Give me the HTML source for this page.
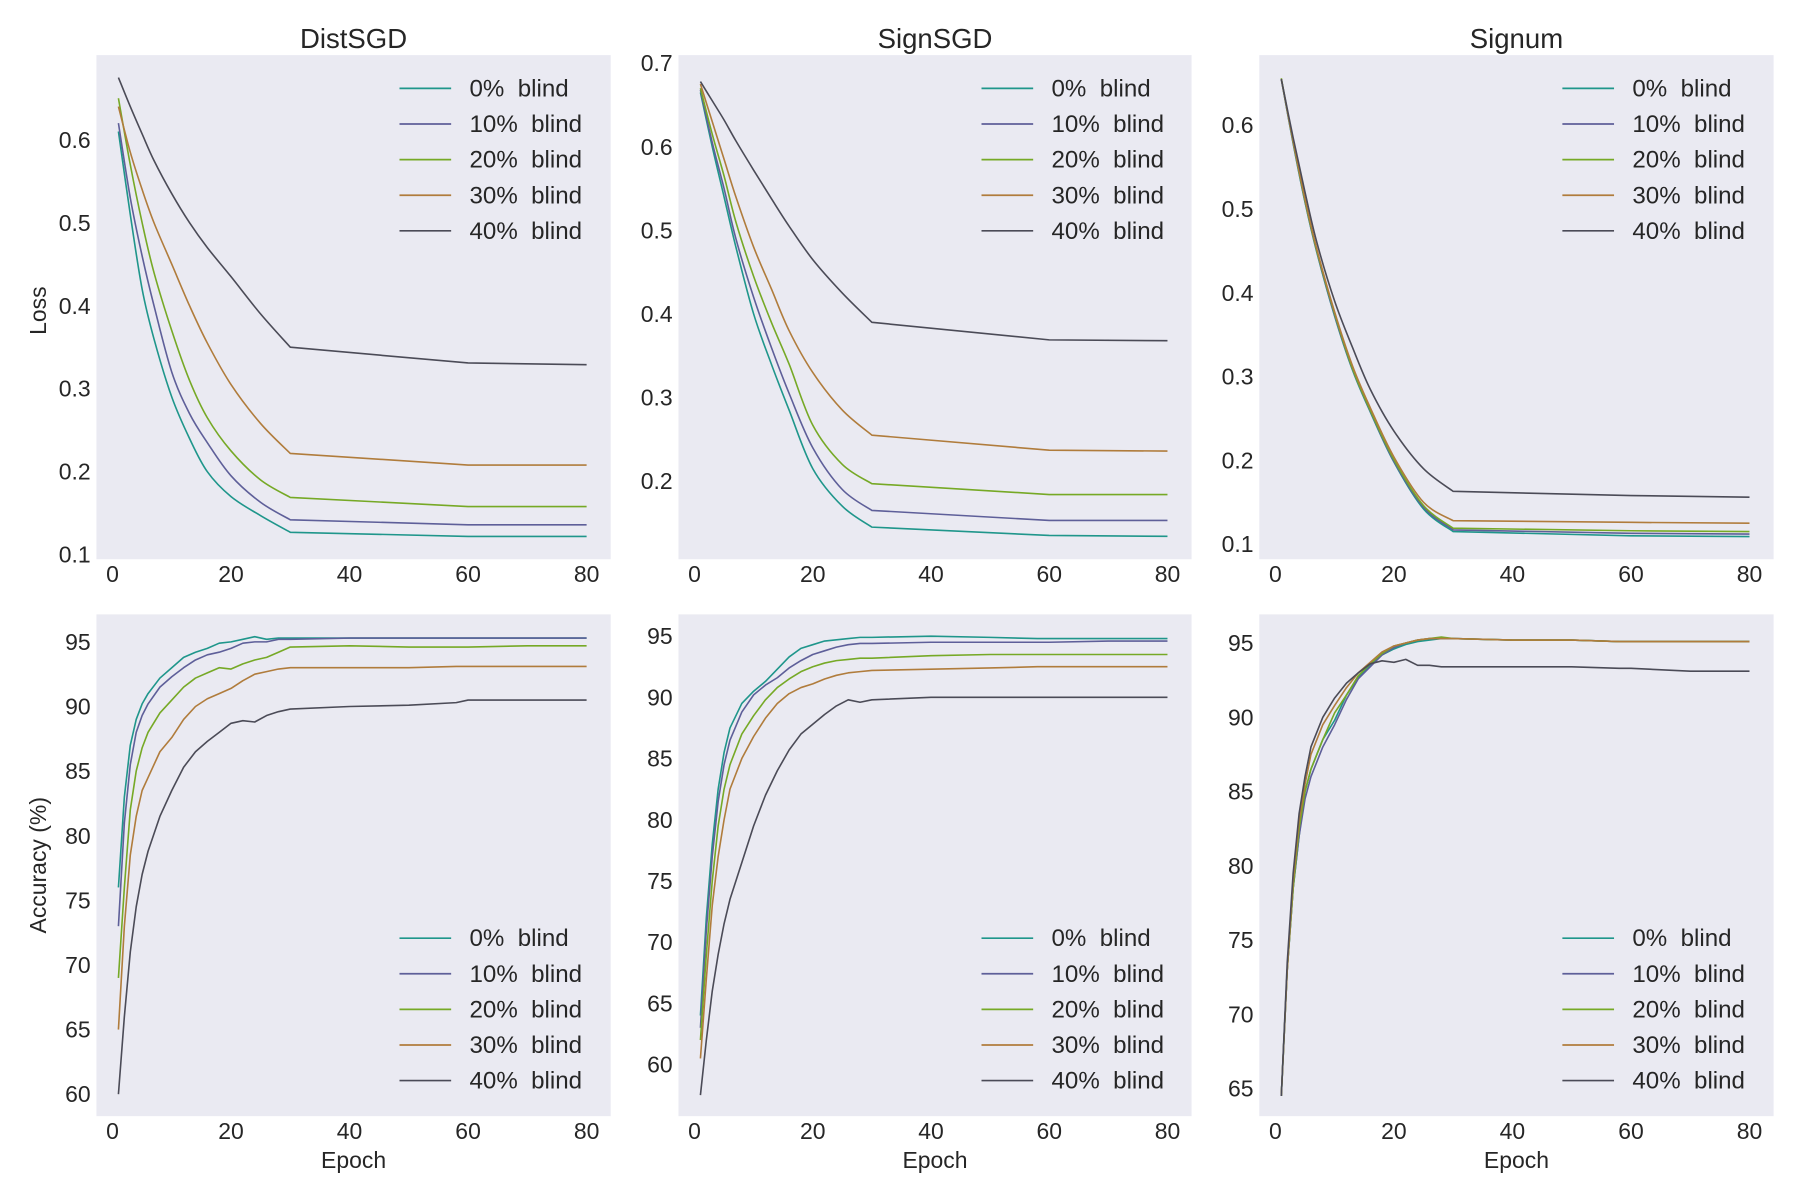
<!DOCTYPE html>
<html><head><meta charset="utf-8"><style>
html,body{margin:0;padding:0;background:#fff;}
svg{display:block;font-family:"Liberation Sans",Arial,sans-serif;}
text{white-space:pre;}
</style></head><body>
<svg id="fig" width="1800" height="1200" viewBox="0 0 1568 1045" preserveAspectRatio="none" xmlns="http://www.w3.org/2000/svg"></svg>
<script>
const seriesLabels = ["0%  blind","10%  blind","20%  blind","30%  blind","40%  blind"];
const seriesColors = ["#1f968b","#5e5f99","#76a926","#b07c3c","#4b4b57"];
const lossEpochs = [1,3,5,7,10,13,16,20,25,30,60,80];
const distLoss0 = [0.61,0.51,0.42,0.36,0.29,0.24,0.20,0.17,0.147,0.127,0.122,0.122];
const distLoss1 = [0.62,0.53,0.46,0.40,0.32,0.27,0.235,0.195,0.163,0.142,0.136,0.136];
const distLoss2 = [0.65,0.57,0.50,0.44,0.37,0.31,0.265,0.225,0.19,0.169,0.158,0.158];
const distLoss3 = [0.64,0.585,0.54,0.50,0.45,0.40,0.355,0.305,0.258,0.222,0.208,0.208];
const distLoss4 = [0.675,0.64,0.607,0.575,0.535,0.50,0.47,0.435,0.39,0.35,0.331,0.329];
const signLoss0 = [0.665,0.60,0.54,0.48,0.40,0.34,0.285,0.215,0.17,0.145,0.135,0.134];
const signLoss1 = [0.668,0.605,0.55,0.49,0.42,0.36,0.305,0.24,0.19,0.165,0.153,0.153];
const signLoss2 = [0.67,0.615,0.565,0.51,0.445,0.39,0.34,0.267,0.22,0.197,0.184,0.184];
const signLoss3 = [0.675,0.63,0.585,0.54,0.48,0.43,0.38,0.33,0.285,0.255,0.237,0.236];
const signLoss4 = [0.678,0.655,0.632,0.607,0.572,0.538,0.505,0.465,0.425,0.39,0.369,0.368];
const signumLoss0 = [0.655,0.578,0.508,0.448,0.372,0.308,0.258,0.198,0.142,0.115,0.110,0.109];
const signumLoss1 = [0.655,0.579,0.509,0.449,0.373,0.309,0.259,0.199,0.144,0.117,0.113,0.112];
const signumLoss2 = [0.656,0.58,0.51,0.45,0.375,0.31,0.26,0.201,0.146,0.119,0.116,0.115];
const signumLoss3 = [0.655,0.581,0.512,0.452,0.377,0.313,0.263,0.204,0.15,0.128,0.126,0.125];
const signumLoss4 = [0.655,0.585,0.52,0.46,0.39,0.335,0.285,0.235,0.19,0.163,0.158,0.156];
const accEpochs = [1,2,3,4,5,6,8,10,12,14,16,18,20,22,24,26,28,30,40,50,58,60,70,80];
const distAcc0 = [76,83,87,89,90.2,91,92.2,93,93.8,94.2,94.5,94.9,95.0,95.2,95.4,95.2,95.3,95.3,95.3,95.3,95.3,95.3,95.3,95.3];
const distAcc1 = [73,81,85.5,88,89.3,90.2,91.5,92.3,93,93.6,94,94.2,94.5,94.9,95.0,95.0,95.2,95.2,95.3,95.3,95.3,95.3,95.3,95.3];
const distAcc2 = [69,76,82,85,86.8,88,89.5,90.5,91.5,92.2,92.6,93.0,92.9,93.3,93.6,93.8,94.2,94.6,94.7,94.6,94.6,94.6,94.7,94.7];
const distAcc3 = [65,73,78.5,81.5,83.5,84.5,86.5,87.6,89,90,90.6,91.0,91.4,92.0,92.5,92.7,92.9,93.0,93.0,93.0,93.1,93.1,93.1,93.1];
const distAcc4 = [60,66,71,74.5,77,78.8,81.5,83.5,85.3,86.5,87.3,88,88.7,88.9,88.8,89.3,89.6,89.8,90.0,90.1,90.3,90.5,90.5,90.5];
const signAcc0 = [64,72,78,82.5,85.5,87.5,89.5,90.5,91.3,92.3,93.3,94,94.3,94.6,94.7,94.8,94.9,94.9,95.0,94.9,94.8,94.8,94.8,94.8];
const signAcc1 = [63,71,77,81.5,84.5,86.5,88.8,90.2,91,91.6,92.4,93,93.5,93.8,94.1,94.3,94.4,94.4,94.5,94.5,94.5,94.5,94.6,94.6];
const signAcc2 = [62,69,75,79.5,82.5,84.5,87,88.5,89.8,90.8,91.5,92.1,92.5,92.8,93,93.1,93.2,93.2,93.4,93.5,93.5,93.5,93.5,93.5];
const signAcc3 = [60.5,67,73,77,80,82.5,85,86.8,88.3,89.5,90.3,90.8,91.1,91.5,91.8,92,92.1,92.2,92.3,92.4,92.5,92.5,92.5,92.5];
const signAcc4 = [57.5,62,66,69,71.5,73.5,76.5,79.5,82,84,85.7,87,87.8,88.6,89.3,89.8,89.6,89.8,90.0,90.0,90.0,90.0,90.0,90.0];
const signumAcc0 = [64.5,73,78.5,82,85,86.5,88.5,89.8,91.5,92.7,93.5,94.2,94.6,94.9,95.1,95.2,95.3,95.3,95.2,95.2,95.1,95.1,95.1,95.1];
const signumAcc1 = [64.5,73,78.5,82,84.5,86,88,89.5,91.2,92.6,93.4,94.2,94.7,95.0,95.2,95.3,95.3,95.3,95.2,95.2,95.1,95.1,95.1,95.1];
const signumAcc2 = [64.5,73,78.5,82.5,85,86.5,88.5,90.3,91.5,92.8,93.6,94.3,94.8,95.0,95.2,95.3,95.4,95.3,95.2,95.2,95.1,95.1,95.1,95.1];
const signumAcc3 = [64.5,73,79,83,85.5,87.5,89.5,90.8,92,93,93.7,94.4,94.8,95.0,95.2,95.3,95.3,95.3,95.2,95.2,95.1,95.1,95.1,95.1];
const signumAcc4 = [64.5,73.5,79.5,83.5,86,88,90,91.3,92.3,93,93.6,93.8,93.7,93.9,93.5,93.5,93.4,93.4,93.4,93.4,93.3,93.3,93.1,93.1];
const xTicks = [0,20,40,60,80];
const distLossTicks = [0.1,0.2,0.3,0.4,0.5,0.6];
const signLossTicks = [0.2,0.3,0.4,0.5,0.6,0.7];
const signumLossTicks = [0.1,0.2,0.3,0.4,0.5,0.6];
const distAccTicks = [60,65,70,75,80,85,90,95];
const signAccTicks = [60,65,70,75,80,85,90,95];
const signumAccTicks = [65,70,75,80,85,90,95];

const NS = "http://www.w3.org/2000/svg";
const svg = document.getElementById('fig');
function mk(tag, attrs, parent){ const e=document.createElementNS(NS,tag); for(const k in attrs) e.setAttribute(k,attrs[k]); (parent||svg).appendChild(e); return e; }

function buildPath(pts, breakIdx){
  let d = 'M'+pts[0][0].toFixed(2)+','+pts[0][1].toFixed(2);
  for(let i=0;i<pts.length-1;i++){
    const p1=pts[i], p2=pts[i+1];
    if(i+1<=breakIdx){
      const p0 = pts[Math.max(i-1,0)];
      const p3 = (i+2<=breakIdx)? pts[i+2] : p2;
      const c1=[p1[0]+(p2[0]-p0[0])/6, p1[1]+(p2[1]-p0[1])/6];
      const c2=[p2[0]-(p3[0]-p1[0])/6, p2[1]-(p3[1]-p1[1])/6];
      d += ' C'+c1[0].toFixed(2)+','+c1[1].toFixed(2)+' '+c2[0].toFixed(2)+','+c2[1].toFixed(2)+' '+p2[0].toFixed(2)+','+p2[1].toFixed(2);
    } else {
      d += ' L'+p2[0].toFixed(2)+','+p2[1].toFixed(2);
    }
  }
  return d;
}

const panels = [
 {name:'distsgd-loss', x0:84,x1:532,y0:48,y1:487, ymin:0.0945,ymax:0.702, ticks:distLossTicks, dec:1, ex:lossEpochs, data:[distLoss0,distLoss1,distLoss2,distLoss3,distLoss4], legendTop:true, title:'DistSGD', ylabel:'Loss', smooth:9},
 {name:'signsgd-loss', x0:591,x1:1038,y0:48,y1:487, ymin:0.1066,ymax:0.7096, ticks:signLossTicks, dec:1, ex:lossEpochs, data:[signLoss0,signLoss1,signLoss2,signLoss3,signLoss4], legendTop:true, title:'SignSGD', smooth:9},
 {name:'signum-loss', x0:1097,x1:1545,y0:48,y1:487, ymin:0.082,ymax:0.6836, ticks:signumLossTicks, dec:1, ex:lossEpochs, data:[signumLoss0,signumLoss1,signumLoss2,signumLoss3,signumLoss4], legendTop:true, title:'Signum', smooth:9},
 {name:'distsgd-accuracy', x0:84,x1:532,y0:535,y1:972, ymin:58.3,ymax:97.13, ticks:distAccTicks, dec:0, ex:accEpochs, data:[distAcc0,distAcc1,distAcc2,distAcc3,distAcc4], legendTop:false, ylabel:'Accuracy (%)', xlabel:'Epoch', smooth:0},
 {name:'signsgd-accuracy', x0:591,x1:1038,y0:535,y1:972, ymin:55.78,ymax:96.78, ticks:signAccTicks, dec:0, ex:accEpochs, data:[signAcc0,signAcc1,signAcc2,signAcc3,signAcc4], legendTop:false, xlabel:'Epoch', smooth:0},
 {name:'signum-accuracy', x0:1097,x1:1545,y0:535,y1:972, ymin:63.14,ymax:96.93, ticks:signumAccTicks, dec:0, ex:accEpochs, data:[signumAcc0,signumAcc1,signumAcc2,signumAcc3,signumAcc4], legendTop:false, xlabel:'Epoch', smooth:0}
];

panels.forEach(p=>{
  const g = mk('g',{});
  
  
  const bg = mk('rect',{x:p.x0,y:p.y0,width:p.x1-p.x0,height:p.y1-p.y0,fill:'#eaeaf2'},g);
  
  
  const xs = v => p.x0+14 + (v-0)/80*(p.x1-p.x0-35);
  const ys = v => p.y1 - (v-p.ymin)/(p.ymax-p.ymin)*(p.y1-p.y0);
  xTicks.forEach(t=>{
    const tx = mk('text',{x:xs(t),y:p.y1+20,'font-size':20,'text-anchor':'middle',fill:'#262626'},g);
    tx.textContent = t;
    
    
  });
  p.ticks.forEach(t=>{
    const tx = mk('text',{x:p.x0-5,y:ys(t)+7,'font-size':20,'text-anchor':'end',fill:'#262626'},g);
    tx.textContent = t.toFixed(p.dec);
    
    
  });
  p.data.forEach((arr,i)=>{
    const pts = arr.map((v,j)=>[xs(p.ex[j]), ys(v)]);
    const pl = mk('path',{d:buildPath(pts,p.smooth),fill:'none',stroke:seriesColors[i],'stroke-width':1.4,'stroke-linejoin':'round'},g);
    
    
  });
  const ly = p.legendTop ? 77 : 817;
  const lx = p.x0+264;
  seriesLabels.forEach((lab,i)=>{
    const yy = ly + i*31;
    const ln = mk('line',{x1:lx,x2:lx+45,y1:yy,y2:yy,stroke:seriesColors[i],'stroke-width':1.5},g);
    
    
    const tx = mk('text',{x:lx+61,y:yy+7,'font-size':21,fill:'#262626'},g);
    tx.textContent = lab;
    
    
  });
  if(p.title){
    const tt = mk('text',{x:(p.x0+p.x1)/2,y:42,'font-size':24,'text-anchor':'middle',fill:'#262626'},g);
    tt.textContent = p.title;
    
    
  }
  if(p.ylabel){
    const cy = (p.y0+p.y1)/2 + (p.legendTop?3:0);
    const tt = mk('text',{x:40,y:cy,'font-size':20,'text-anchor':'middle',fill:'#262626',transform:'rotate(-90 40 '+cy+')'},g);
    tt.textContent = p.ylabel;
    
    
  }
  if(p.xlabel){
    const tt = mk('text',{x:(p.x0+p.x1)/2,y:1017,'font-size':20,'text-anchor':'middle',fill:'#262626'},g);
    tt.textContent = p.xlabel;
    
    
  }
});
</script>
</body></html>
